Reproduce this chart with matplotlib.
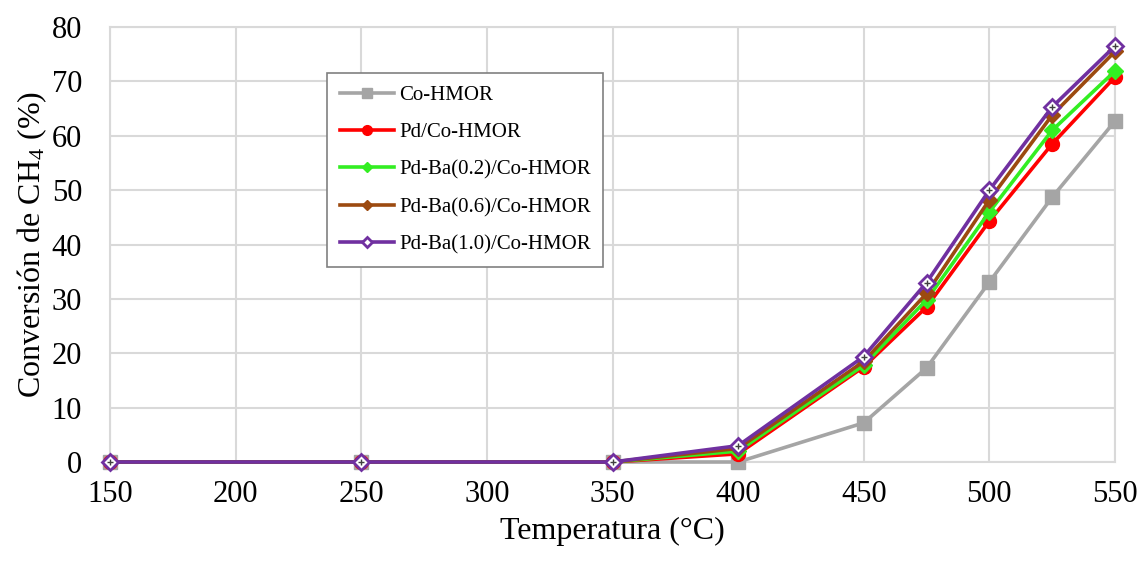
import numpy as np
import matplotlib
matplotlib.use("Agg")
import matplotlib.pyplot as plt

plt.rcParams["font.family"] = ["Liberation Serif", "DejaVu Serif"]
plt.rcParams["mathtext.fontset"] = "custom"
plt.rcParams["mathtext.rm"] = "Liberation Serif"
plt.rcParams["mathtext.default"] = "regular"

temps = [150, 250, 350, 400, 450, 475, 500, 525, 550]
co_hmor = [0, 0, 0, 0, 7.2, 17.3, 33.1, 48.7, 62.7]
pd_co = [0, 0, 0, 1.5, 17.5, 28.5, 44.3, 58.5, 70.8]
pd_ba02 = [0, 0, 0, 2.0, 17.8, 29.8, 46.0, 61.0, 71.9]
pd_ba06 = [0, 0, 0, 2.5, 18.5, 31.0, 48.2, 63.8, 75.5]
pd_ba10 = [0, 0, 0, 3.0, 19.4, 33.0, 50.0, 65.3, 76.5]

labels = ["Co-HMOR", "Pd/Co-HMOR", "Pd-Ba(0.2)/Co-HMOR",
          "Pd-Ba(0.6)/Co-HMOR", "Pd-Ba(1.0)/Co-HMOR"]

fig = plt.figure(figsize=(11.43, 5.63), dpi=100)
ax = fig.add_axes([110 / 1143, 1 - 462 / 563, 1005 / 1143, 435 / 563])

lw = 2.6
kw = dict(lw=lw, clip_on=False)
ax.plot(temps, co_hmor, color="#a5a5a5", marker="s", ms=10, label=labels[0], zorder=3, **kw)
ax.plot(temps, pd_co, color="#ff0000", marker="o", ms=10, label=labels[1], zorder=4, **kw)
ax.plot(temps, pd_ba02, color="#33ee22", marker="D", ms=8, label=labels[2], zorder=5, **kw)
ax.plot(temps, pd_ba06, color="#9c4a10", marker="D", ms=8, label=labels[3], zorder=6, **kw)
ax.plot(temps, pd_ba10, color="#7030a0", marker="D", ms=8, mfc="white",
        mec="#7030a0", mew=2, label=labels[4], zorder=7, **kw)
ax.plot(temps, pd_ba10, ls="none", marker="+", ms=5, color="#404040", mew=1,
        zorder=8, clip_on=False)

ax.set_xlim(150, 550)
ax.set_ylim(0, 80)
ax.set_xticks(np.arange(150, 551, 50))
ax.set_yticks(np.arange(0, 81, 10))
ax.tick_params(labelsize=22, length=0)
ax.tick_params(axis="x", pad=13)
ax.tick_params(axis="y", pad=20)
ax.grid(True, color="#d9d9d9", lw=1.5)
ax.set_axisbelow(True)
for s in ax.spines.values():
    s.set_color("#d9d9d9")
    s.set_linewidth(1.5)

ax.set_xlabel("Temperatura (°C)", fontsize=23, labelpad=6)
ax.set_ylabel("Conversión de CH$_4$ (%)", fontsize=23, labelpad=2)

leg = ax.legend(loc="upper left", bbox_to_anchor=(0.216, 0.894), fontsize=15,
                frameon=True, fancybox=False, edgecolor="#808080", framealpha=1,
                borderpad=0.6, labelspacing=0.85, handlelength=2.6,
                handletextpad=0.25, markerscale=0.7, borderaxespad=0)
leg.get_frame().set_linewidth(1.2)

fig.savefig("out.png", dpi=100)
